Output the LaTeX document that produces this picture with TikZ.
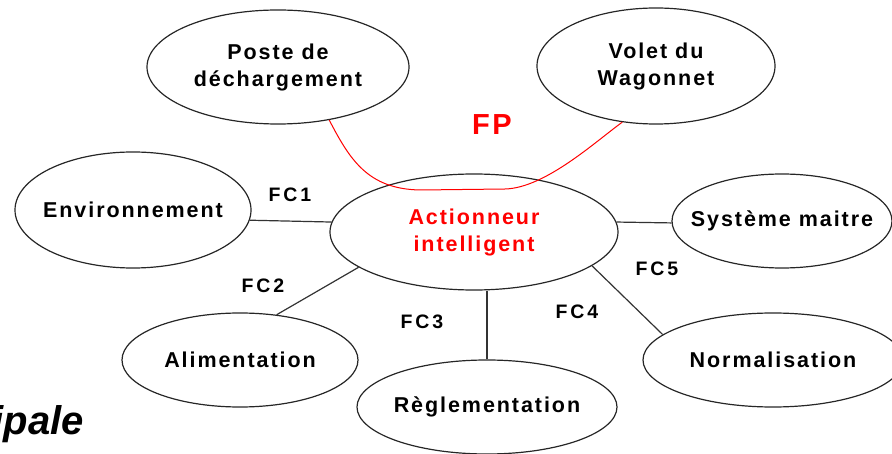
\documentclass[tikz,border=0pt]{standalone}
\usepackage{fontspec}
\setmainfont{Liberation Sans}
\newfontfamily\boxfont[LetterSpace=9]{Liberation Sans}
\newfontfamily\fcfont[LetterSpace=15]{Liberation Sans}
\usetikzlibrary{shapes.geometric}

\begin{document}
\begin{tikzpicture}[x=1pt,y=-1pt,
        bloc/.style={draw=black!85,line width=1.2pt,ellipse,inner sep=-30pt,align=center,
                font=\boxfont\bfseries\fontsize{21.5}{27}\selectfont},
        link/.style={draw=black!80,line width=1.2pt},
        fc/.style={font=\fcfont\bfseries\fontsize{19.5}{20}\selectfont},
        fpline/.style={red,line width=1pt}]
        % visible area
        \clip (0,0) rectangle (892,454);

        % the actuator in the middle
        \node[bloc,text=red,minimum width=288,minimum height=116] (act) at (474,232) {Actionneur\\intelligent};

        % the outer elements
        \node[bloc,minimum width=262,minimum height=114] (poste) at (278,67) {Poste de\\déchargement};
        \node[bloc,minimum width=238,minimum height=116] (volet) at (656,66) {Volet du\\Wagonnet};
        \node[bloc,minimum width=236,minimum height=116] (env) at (133,210) {Environnement};
        \node[bloc,minimum width=220,minimum height=94] (sys) at (782,221) {Système maitre};
        \node[bloc,minimum width=236,minimum height=94] (alim) at (240,360) {Alimentation};
        \node[bloc,minimum width=260,minimum height=94] (regl) at (487,407) {Règlementation};
        \node[bloc,minimum width=260,minimum height=94] (norm) at (773,360) {Normalisation};

        % constraint functions
        \draw[link] (env.-5) -- (act.176);
        \draw[link] (alim.51) -- (act.197);
        \draw[link] (regl.north) -- (regl.north |- act.south);
        \draw[link] (act.-16) -- (norm.167);
        \draw[link] (act.4) -- (sys.181);
        \node[fc] (fcone) at (290,195) {FC1};
        \node[fc] (fctwo) at (263,286) {FC2};
        \node[fc] (fcthree) at (422,322) {FC3};
        \node[fc] (fcfour) at (577,312) {FC4};
        \node[fc] (fcfive) at (657,269) {FC5};

        % main function
        \draw[fpline] (poste.-46) .. controls (350,160) and (368,189) .. (420,190)
                -- (505,189) .. controls (545,188) and (595,142) .. (volet.-121);
        \node[text=red,font=\boxfont\bfseries\fontsize{29}{30}\selectfont] (fp) at (492,125) {FP};

        % title, cut by the border
        \node[font=\bfseries\itshape\fontsize{40}{44}\selectfont,anchor=base east,inner sep=0pt] (titre) at (84,435) {ipale};
\end{tikzpicture}
\end{document}
